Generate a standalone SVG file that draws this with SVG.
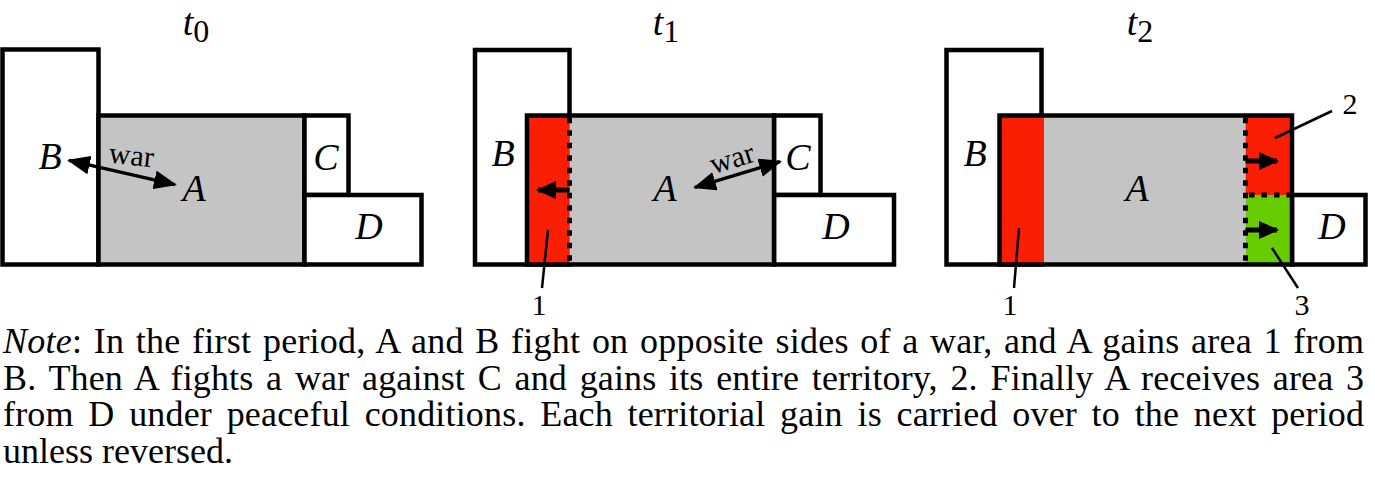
<svg xmlns="http://www.w3.org/2000/svg" width="1375" height="499" viewBox="0 0 1375 499">
<style>
  .ln { stroke:#000; stroke-width:4.5; stroke-linejoin:miter; }
  .wb { fill:#fff; }
  .gr { fill:#c4c4c4; }
  .rd { fill:#fa1e02; }
  .gn { fill:#66cc00; }
  .out { fill:none; stroke:#000; stroke-width:4.5; }
  .dot { fill:none; stroke:#000; stroke-width:5; stroke-dasharray:5.5 7; }
  .lbl { font-family:"Liberation Serif", serif; font-style:italic; font-size:38px; fill:#000; }
  .ttl { font-family:"Liberation Serif", serif; font-size:38px; fill:#000; }
  .num { font-family:"Liberation Serif", serif; font-size:30px; fill:#000; }
  .war { font-family:"Liberation Serif", serif; font-size:30px; fill:#000; }
  .note { font-family:"Liberation Serif", serif; font-size:36px; fill:#000; }
  .arr { stroke:#000; stroke-width:3.5; fill:none; }
  .sarr { stroke:#000; stroke-width:5; fill:none; }
  .lead { stroke:#000; stroke-width:2.5; fill:none; }
</style>
<defs>
  <marker id="head" markerUnits="userSpaceOnUse" markerWidth="23" markerHeight="19" refX="21" refY="9.5" orient="auto-start-reverse" viewBox="0 0 23 19">
    <path d="M0,0 L23,9.5 L0,19 Z" fill="#000"/>
  </marker>
  <marker id="shead" markerUnits="userSpaceOnUse" markerWidth="20" markerHeight="18" refX="18" refY="9" orient="auto" viewBox="0 0 20 18">
    <path d="M0,0 L20,9 L0,18 Z" fill="#000"/>
  </marker>
</defs>

<!-- Panel t0 -->
<text class="ttl" x="196" y="35" text-anchor="middle"><tspan font-style="italic">t</tspan><tspan font-size="32" dy="7">0</tspan></text>
<g id="t0-B">
  <rect class="wb ln" x="2.5" y="49.5" width="96" height="215"/>
  <text class="lbl" x="50" y="169" text-anchor="middle">B</text>
</g>
<g id="t0-A">
  <rect class="gr ln" x="98.5" y="115.5" width="206" height="149"/>
  <text class="lbl" x="194" y="201" text-anchor="middle">A</text>
</g>
<g id="t0-C">
  <rect class="wb ln" x="304.5" y="115.5" width="44" height="79.5"/>
  <text class="lbl" x="326" y="170" text-anchor="middle">C</text>
</g>
<g id="t0-D">
  <rect class="wb ln" x="304.5" y="195" width="117" height="69.5"/>
  <text class="lbl" x="369" y="239" text-anchor="middle">D</text>
</g>

<!-- Panel t1 -->
<text class="ttl" x="666" y="35" text-anchor="middle"><tspan font-style="italic">t</tspan><tspan font-size="32" dy="7">1</tspan></text>
<g id="t1-B">
  <rect class="wb ln" x="475" y="50" width="94.5" height="214.5"/>
  <text class="lbl" x="503" y="166" text-anchor="middle">B</text>
</g>
<g id="t1-C">
  <rect class="wb ln" x="774" y="115.5" width="46.5" height="79.5"/>
  <text class="lbl" x="798" y="170" text-anchor="middle">C</text>
</g>
<g id="t1-D">
  <rect class="wb ln" x="774" y="195" width="120" height="69.5"/>
  <text class="lbl" x="836" y="239" text-anchor="middle">D</text>
</g>
<g id="t1-A">
  <rect class="rd" x="527" y="115.5" width="42.5" height="149"/>
  <rect class="gr" x="569.5" y="115.5" width="204.5" height="149"/>
  <rect class="out" x="527" y="115.5" width="247" height="149"/>
  <line class="dot" x1="569.5" y1="117.75" x2="569.5" y2="262.25"/>
  <text class="lbl" x="665" y="201" text-anchor="middle">A</text>
</g>

<!-- Panel t2 -->
<text class="ttl" x="1140" y="35" text-anchor="middle"><tspan font-style="italic">t</tspan><tspan font-size="32" dy="7">2</tspan></text>
<g id="t2-B">
  <rect class="wb ln" x="946.5" y="50" width="95" height="214.5"/>
  <text class="lbl" x="975" y="166" text-anchor="middle">B</text>
</g>
<g id="t2-D">
  <rect class="wb ln" x="1292" y="195" width="73.5" height="69.5"/>
  <text class="lbl" x="1332" y="239" text-anchor="middle">D</text>
</g>
<g id="t2-A">
  <rect class="rd" x="999.5" y="115.5" width="44.5" height="149"/>
  <rect class="gr" x="1044" y="115.5" width="201.5" height="149"/>
  <rect class="rd" x="1245.5" y="115.5" width="46.5" height="79.5"/>
  <rect class="gn" x="1245.5" y="195" width="46.5" height="69.5"/>
  <rect class="out" x="999.5" y="115.5" width="292.5" height="149"/>
  <line class="dot" x1="1245.5" y1="117.75" x2="1245.5" y2="262.25"/>
  <line class="dot" x1="1249" y1="195" x2="1290" y2="195"/>
  <text class="lbl" x="1137" y="201" text-anchor="middle">A</text>
</g>

<!-- Connectors -->
<g id="connectors">
  <line class="arr" x1="69" y1="160.4" x2="175" y2="184.6" marker-start="url(#head)" marker-end="url(#head)"/>
  <text class="war" x="131" y="165" text-anchor="middle" transform="rotate(6 131 160)">war</text>
  <line class="arr" x1="694.9" y1="187.4" x2="780.1" y2="161.6" marker-start="url(#head)" marker-end="url(#head)"/>
  <text class="war" x="733" y="168" text-anchor="middle" transform="rotate(-17 733 162)">war</text>
  <line class="sarr" x1="569.5" y1="190" x2="538" y2="190" marker-end="url(#shead)"/>
  <line class="sarr" x1="1245.5" y1="161" x2="1277" y2="161" marker-end="url(#shead)"/>
  <line class="sarr" x1="1245.5" y1="230" x2="1277" y2="230" marker-end="url(#shead)"/>
  <line class="lead" x1="548" y1="230" x2="542" y2="288"/>
  <line class="lead" x1="1019" y1="228" x2="1014" y2="288"/>
  <line class="lead" x1="1275" y1="138" x2="1332" y2="111"/>
  <line class="lead" x1="1272" y1="248" x2="1298" y2="288"/>
  <text class="num" x="539" y="315" text-anchor="middle">1</text>
  <text class="num" x="1010" y="315" text-anchor="middle">1</text>
  <text class="num" x="1350" y="114" text-anchor="middle">2</text>
  <text class="num" x="1302" y="315" text-anchor="middle">3</text>
</g>

<!-- Note -->
<text class="note" x="3" y="353" word-spacing="2.34" textLength="1361" lengthAdjust="spacing"><tspan font-style="italic">Note</tspan>: In the first period, A and B fight on opposite sides of a war, and A gains area 1 from</text>
<text class="note" x="3" y="389.5" word-spacing="3.62" textLength="1361" lengthAdjust="spacing">B. Then A fights a war against C and gains its entire territory, 2. Finally A receives area 3</text>
<text class="note" x="3" y="426" word-spacing="5.49" textLength="1361" lengthAdjust="spacing">from D under peaceful conditions. Each territorial gain is carried over to the next period</text>
<text class="note" x="3" y="462.5">unless reversed.</text>
</svg>
